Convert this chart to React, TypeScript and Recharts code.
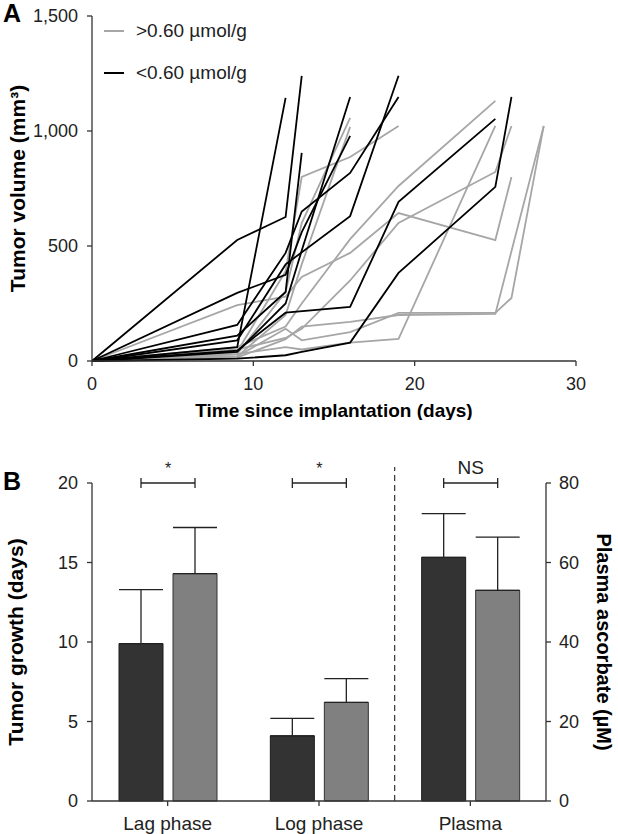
import React from 'react';
import {
  LineChart,
  Line,
  XAxis,
  YAxis,
  Legend,
  ComposedChart,
  Bar,
  ErrorBar,
  ReferenceLine,
} from 'recharts';

const FONT = '"Liberation Sans", Arial, sans-serif';
const GRAY = '#a6a6a6';
const BLACK = '#000000';
const AXIS = '#333333';

// Panel A - individual tumours, >0.60 umol/g (grey)
const grayDays = [
  [0, 9, 12, 13, 16, 19],
  [0, 9, 12, 13, 16],
  [0, 9, 12, 13, 16, 19, 25, 26],
  [0, 9, 12, 13, 16, 19, 25],
  [0, 9, 12, 13, 16, 19, 25, 26],
  [0, 9, 12, 13, 16, 19, 25, 26, 28],
  [0, 9, 12, 13, 16, 19, 25, 28],
  [0, 9, 12, 13, 16, 19, 25],
  [0, 9, 12, 13, 16],
];
const grayVols = [
  [0, 40, 390, 800, 887, 1022],
  [0, 30, 300, 600, 1057],
  [0, 243, 280, 365, 470, 643, 526, 800],
  [0, 60, 150, 250, 530, 761, 1131],
  [0, 50, 100, 140, 350, 600, 822, 1022],
  [0, 20, 140, 90, 126, 209, 209, 274, 1022],
  [0, 15, 95, 150, 170, 200, 205, 1022],
  [0, 30, 60, 50, 80, 96, 1022],
  [0, 20, 200, 420, 1018],
];

// Panel A - individual tumours, <0.60 umol/g (black)
const blackDays = [
  [0, 9, 12, 13],
  [0, 9, 12],
  [0, 9, 12, 13],
  [0, 9, 12, 13, 16],
  [0, 9, 12, 13, 16],
  [0, 9, 12, 16, 19],
  [0, 9, 12, 13, 16, 19],
  [0, 9, 12, 16, 19, 25],
  [0, 9, 12, 13, 16, 19, 25, 26],
];
const blackVols = [
  [0, 526, 626, 1240],
  [0, 60, 1144],
  [0, 110, 300, 905],
  [0, 296, 375, 560, 979],
  [0, 40, 250, 480, 1148],
  [0, 90, 420, 630, 1240],
  [0, 157, 470, 650, 818, 1148],
  [0, 45, 210, 235, 692, 1053],
  [0, 10, 25, 40, 80, 383, 757, 1148],
];

const volTicks = [0, 500, 1000, 1500];
const dayTicks = [0, 10, 20, 30];

const legendItems = [
  { label: '>0.60 \u00b5mol/g', color: GRAY },
  { label: '<0.60 \u00b5mol/g', color: BLACK },
];

// Panel B
const phases = ['Lag phase', 'Log phase', 'Plasma'];
const darkDays = [9.9, 4.1, null];
const darkDaysErr = [3.4, 1.1, null];
const grayDaysVal = [14.3, 6.2, null];
const grayDaysErr = [2.9, 1.5, null];
const darkPlasma = [null, null, 61.3];
const darkPlasmaErr = [null, null, 11.0];
const grayPlasma = [null, null, 53.0];
const grayPlasmaErr = [null, null, 13.4];
const sigLabels = ['*', '*', 'NS'];
const bracketLevel = 20;
const growthTicks = [0, 5, 10, 15, 20];
const plasmaTicks = [0, 20, 40, 60, 80];

const toSeries = (days: number[][], vols: number[][]) =>
  days.map((d, i) => d.map((day, j) => ({ day, vol: vols[i][j] })));

const graySeries = toSeries(grayDays, grayVols);
const blackSeries = toSeries(blackDays, blackVols);

const up = (e: number | null) => (e == null ? null : [0, e]);

const barData = phases.map((phase, i) => ({
  phase,
  darkDays: darkDays[i],
  darkDaysErr: up(darkDaysErr[i]),
  grayDays: grayDaysVal[i],
  grayDaysErr: up(grayDaysErr[i]),
  darkPlasma: darkPlasma[i],
  darkPlasmaErr: up(darkPlasmaErr[i]),
  grayPlasma: grayPlasma[i],
  grayPlasmaErr: up(grayPlasmaErr[i]),
  sig: bracketLevel,
  sigLabel: sigLabels[i],
}));

const tickStyle = { fontFamily: FONT, fontSize: 18, fill: '#222' };
const catTickStyle = { fontFamily: FONT, fontSize: 19, fill: '#222' };
const titleStyle = { fontFamily: FONT, fontSize: 19, fontWeight: 700, fill: '#000' };

function VTitle({ viewBox, text, x, angle, size = 21 }: any) {
  const cy = viewBox.y + viewBox.height / 2;
  return (
    <text
      x={x}
      y={cy}
      transform={`rotate(${angle} ${x} ${cy})`}
      textAnchor="middle"
      style={{ ...titleStyle, fontSize: size }}
    >
      {text}
    </text>
  );
}

function HTitle({ viewBox, text, y }: any) {
  const cx = viewBox.x + viewBox.width / 2;
  return (
    <text x={cx} y={y} textAnchor="middle" style={titleStyle}>
      {text}
    </text>
  );
}

const renderLegend = () => (
  <div style={{ fontFamily: FONT, fontSize: 19, color: '#222' }}>
    {legendItems.map((it) => (
      <div key={it.label} style={{ display: 'flex', alignItems: 'center', height: 42 }}>
        <svg width={20} height={4} style={{ marginRight: 12 }}>
          <line x1={0} x2={20} y1={2} y2={2} stroke={it.color} strokeWidth={2} />
        </svg>
        <span>{it.label}</span>
      </div>
    ))}
  </div>
);

const Bracket = (props: any) => {
  const { x, y, width, payload } = props;
  const label = payload.sigLabel;
  return (
    <g>
      <line x1={x} x2={x + width} y1={y} y2={y} stroke="#222" strokeWidth={1.3} />
      <line x1={x} x2={x} y1={y - 5} y2={y + 5} stroke="#222" strokeWidth={1.3} />
      <line x1={x + width} x2={x + width} y1={y - 5} y2={y + 5} stroke="#222" strokeWidth={1.3} />
      <text
        x={x + width / 2}
        y={y - 9}
        textAnchor="middle"
        style={{ fontFamily: FONT, fontSize: label === '*' ? 16 : 19, fill: '#222' }}
      >
        {label}
      </text>
    </g>
  );
};

export default function App() {
  return (
    <div style={{ position: 'absolute', left: 0, top: 0, width: 618, height: 834, background: '#fff', overflow: 'hidden' }}>
      <div style={{ position: 'absolute', left: 0, top: 0 }}>
        <LineChart width={618} height={420} margin={{ top: 16, right: 42, left: 0, bottom: 0 }}>
          <XAxis
            dataKey="day"
            type="number"
            domain={[0, 30]}
            ticks={dayTicks}
            height={59}
            tick={tickStyle}
            tickSize={5}
            tickMargin={11}
            axisLine={{ stroke: AXIS, strokeWidth: 1.3 }}
            tickLine={{ stroke: AXIS, strokeWidth: 1.3 }}
            label={(p: any) => <HTitle viewBox={p.viewBox} text="Time since implantation (days)" y={417} />}
          />
          <YAxis
            type="number"
            domain={[0, 1500]}
            ticks={volTicks}
            width={92}
            tick={tickStyle}
            tickSize={5}
            tickMargin={9}
            tickFormatter={(v: number) => v.toLocaleString('en-US')}
            axisLine={{ stroke: AXIS, strokeWidth: 1.3 }}
            tickLine={{ stroke: AXIS, strokeWidth: 1.3 }}
            label={(p: any) => <VTitle viewBox={p.viewBox} text={'Tumor volume (mm\u00b3)'} x={25} angle={-90} />}
          />
          <Legend
            layout="vertical"
            align="center"
            verticalAlign="middle"
            content={renderLegend}
            wrapperStyle={{ left: 104, top: 10, width: 220, height: 84 }}
          />
          {graySeries.map((s, i) => (
            <Line
              key={`g${i}`}
              data={s}
              dataKey="vol"
              type="linear"
              stroke={GRAY}
              strokeWidth={1.8}
              dot={false}
              activeDot={false}
              legendType="none"
              isAnimationActive={false}
            />
          ))}
          {blackSeries.map((s, i) => (
            <Line
              key={`b${i}`}
              data={s}
              dataKey="vol"
              type="linear"
              stroke={BLACK}
              strokeWidth={1.8}
              dot={false}
              activeDot={false}
              legendType="none"
              isAnimationActive={false}
            />
          ))}
        </LineChart>
      </div>

      <div style={{ position: 'absolute', left: 0, top: 430 }}>
        <ComposedChart
          width={618}
          height={404}
          data={barData}
          margin={{ top: 53, right: 22, left: 0, bottom: 0 }}
          barSize={44}
          barGap={10}
        >
          <XAxis
            xAxisId="main"
            dataKey="phase"
            height={33}
            tick={catTickStyle}
            tickSize={5}
            tickMargin={11}
            axisLine={{ stroke: AXIS, strokeWidth: 1.3 }}
            tickLine={{ stroke: AXIS, strokeWidth: 1.3 }}
          />
          <XAxis xAxisId="p" dataKey="phase" hide />
          <XAxis xAxisId="s" dataKey="phase" hide />
          <YAxis
            yAxisId="left"
            domain={[0, 20]}
            ticks={growthTicks}
            width={92}
            tick={tickStyle}
            tickSize={5}
            tickMargin={9}
            axisLine={{ stroke: AXIS, strokeWidth: 1.3 }}
            tickLine={{ stroke: AXIS, strokeWidth: 1.3 }}
            label={(p: any) => <VTitle viewBox={p.viewBox} text="Tumor growth (days)" x={23} angle={-90} />}
          />
          <YAxis
            yAxisId="right"
            orientation="right"
            domain={[0, 80]}
            ticks={plasmaTicks}
            width={50}
            tick={tickStyle}
            tickSize={5}
            tickMargin={8}
            axisLine={{ stroke: AXIS, strokeWidth: 1.3 }}
            tickLine={{ stroke: AXIS, strokeWidth: 1.3 }}
            label={(p: any) => (
              <VTitle viewBox={p.viewBox} text={'Plasma ascorbate (\u00b5M)'} x={597} angle={90} size={20} />
            )}
          />
          <ReferenceLine
            xAxisId="main"
            yAxisId="left"
            position="start"
            segment={[
              { x: 'Plasma', y: 0 },
              { x: 'Plasma', y: 21 },
            ]}
            ifOverflow="visible"
            stroke="#333"
            strokeWidth={1.2}
            strokeDasharray="6 4"
          />
          <Bar xAxisId="main" yAxisId="left" dataKey="darkDays" fill="#333333" stroke="#1a1a1a" strokeWidth={1} isAnimationActive={false}>
            <ErrorBar dataKey="darkDaysErr" direction="y" width={22} stroke="#222" strokeWidth={1.3} />
          </Bar>
          <Bar xAxisId="main" yAxisId="left" dataKey="grayDays" fill="#808080" stroke="#333" strokeWidth={1} isAnimationActive={false}>
            <ErrorBar dataKey="grayDaysErr" direction="y" width={22} stroke="#222" strokeWidth={1.3} />
          </Bar>
          <Bar xAxisId="p" yAxisId="right" dataKey="darkPlasma" fill="#333333" stroke="#1a1a1a" strokeWidth={1} isAnimationActive={false}>
            <ErrorBar dataKey="darkPlasmaErr" direction="y" width={22} stroke="#222" strokeWidth={1.3} />
          </Bar>
          <Bar xAxisId="p" yAxisId="right" dataKey="grayPlasma" fill="#808080" stroke="#333" strokeWidth={1} isAnimationActive={false}>
            <ErrorBar dataKey="grayPlasmaErr" direction="y" width={22} stroke="#222" strokeWidth={1.3} />
          </Bar>
          <Bar xAxisId="s" yAxisId="left" dataKey="sig" barSize={54} shape={Bracket} isAnimationActive={false} />
        </ComposedChart>
      </div>

      <div style={{ position: 'absolute', left: 3, top: 1, fontFamily: FONT, fontSize: 25, fontWeight: 700, lineHeight: 1 }}>A</div>
      <div style={{ position: 'absolute', left: 3, top: 469, fontFamily: FONT, fontSize: 25, fontWeight: 700, lineHeight: 1 }}>B</div>
    </div>
  );
}
